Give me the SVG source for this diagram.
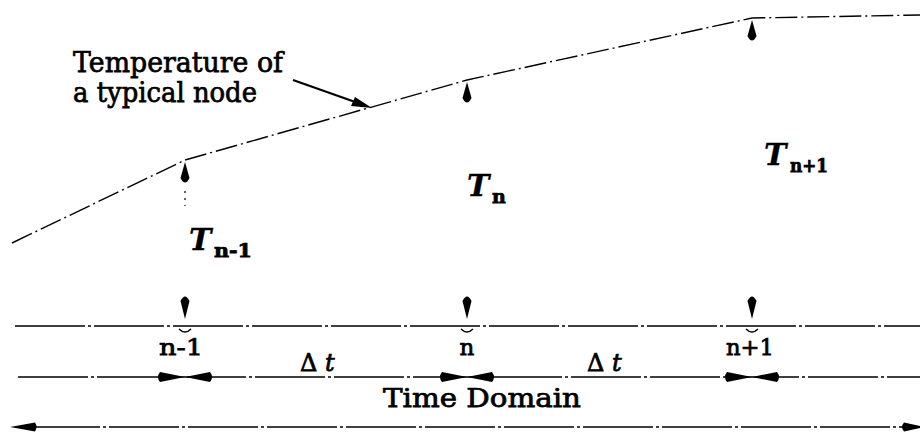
<svg xmlns="http://www.w3.org/2000/svg" width="920" height="433" viewBox="0 0 920 433">
<style>
.t{font-family:"DejaVu Serif","Liberation Serif",serif;fill:#000;stroke:#000;stroke-width:0.75}
.it{font-style:italic;font-weight:bold;stroke-width:0.3}
.curve{fill:none;stroke:#000;stroke-width:1.4;stroke-dasharray:22 4 2 4}
.axis{fill:none;stroke:#000;stroke-width:1.7;stroke-dasharray:70 3 3 3}
.dot{fill:none;stroke:#000;stroke-width:1.2;stroke-dasharray:2 5}
.fill{fill:#000;stroke:none}
</style>
<rect width="920" height="433" fill="#fff"/>
<g id="connectors">
  <polyline class="curve" points="12,243 185,160 467,80 752,18 920,15"/>
  <line x1="293" y1="80" x2="358" y2="103" stroke="#000" stroke-width="2.2"/>
  <path class="fill" d="M372,108 L351,106 L355,97 Z"/>
  <line class="axis" x1="15" y1="326" x2="920" y2="326"/>
  <line class="axis" x1="18" y1="377" x2="920" y2="377"/>
  <line class="axis" x1="30" y1="427" x2="905" y2="427"/>
  <path class="fill" d="M10,427 L35,422.5 Q38,427 35,431.5 Z"/>
  <path class="fill" d="M924,427 L904,422.5 Q900,427 904,431.5 Z"/>
</g>
<g id="node-n-1">
  <path class="fill" d="M185,162 L189.5,178 Q185,187 180.5,178 Z"/>
  <line class="dot" x1="185" y1="191" x2="185" y2="206"/>
  <path class="fill" d="M185,319 L180.5,301 Q185,292 189.5,301 Z"/>
  <path d="M179,329 Q185,335 191,329" fill="none" stroke="#000" stroke-width="1.4"/>
  <path class="fill" d="M185,377 L160,372 Q156,377 160,382 Z"/>
  <path class="fill" d="M185,377 L210,372 Q214,377 210,382 Z"/>
  <text class="t" x="181" y="355" font-size="23" text-anchor="middle" textLength="44" lengthAdjust="spacingAndGlyphs">n-1</text>
  <text class="t it" x="189" y="250" font-size="30">T</text>
  <text class="t" x="214" y="257" font-size="19" font-weight="bold" textLength="38" lengthAdjust="spacingAndGlyphs">n-1</text>
</g>
<g id="node-n">
  <path class="fill" d="M467,82 L471.5,98 Q467,107 462.5,98 Z"/>
  <path class="fill" d="M467,319 L462.5,301 Q467,292 471.5,301 Z"/>
  <path d="M461,329 Q467,335 473,329" fill="none" stroke="#000" stroke-width="1.4"/>
  <path class="fill" d="M467,377 L442,372 Q438,377 442,382 Z"/>
  <path class="fill" d="M467,377 L492,372 Q496,377 492,382 Z"/>
  <text class="t" x="467" y="355" font-size="23" text-anchor="middle">n</text>
  <text class="t it" x="467" y="196" font-size="30">T</text>
  <text class="t" x="492" y="203" font-size="19" font-weight="bold">n</text>
</g>
<g id="node-n+1">
  <path class="fill" d="M752,20 L756.5,36 Q752,45 747.5,36 Z"/>
  <path class="fill" d="M752,319 L747.5,301 Q752,292 756.5,301 Z"/>
  <path d="M746,329 Q752,335 758,329" fill="none" stroke="#000" stroke-width="1.4"/>
  <path class="fill" d="M752,377 L727,372 Q723,377 727,382 Z"/>
  <path class="fill" d="M752,377 L777,372 Q781,377 777,382 Z"/>
  <text class="t" x="750" y="355" font-size="23" text-anchor="middle" textLength="48" lengthAdjust="spacingAndGlyphs">n+1</text>
  <text class="t it" x="764" y="165" font-size="30">T</text>
  <text class="t" x="790" y="172" font-size="19" font-weight="bold" textLength="38" lengthAdjust="spacingAndGlyphs">n+1</text>
</g>
<g id="labels">
  <text class="t" x="73" y="72" font-size="28" textLength="210" lengthAdjust="spacingAndGlyphs">Temperature of</text>
  <text class="t" x="73" y="102" font-size="28" textLength="184" lengthAdjust="spacingAndGlyphs">a typical node</text>
  <text class="t" x="300" y="371" font-size="24">Δ <tspan font-style="italic">t</tspan></text>
  <text class="t" x="587" y="371" font-size="24">Δ <tspan font-style="italic">t</tspan></text>
  <text class="t" x="383" y="407" font-size="26" textLength="198" lengthAdjust="spacingAndGlyphs">Time Domain</text>
</g>
</svg>
